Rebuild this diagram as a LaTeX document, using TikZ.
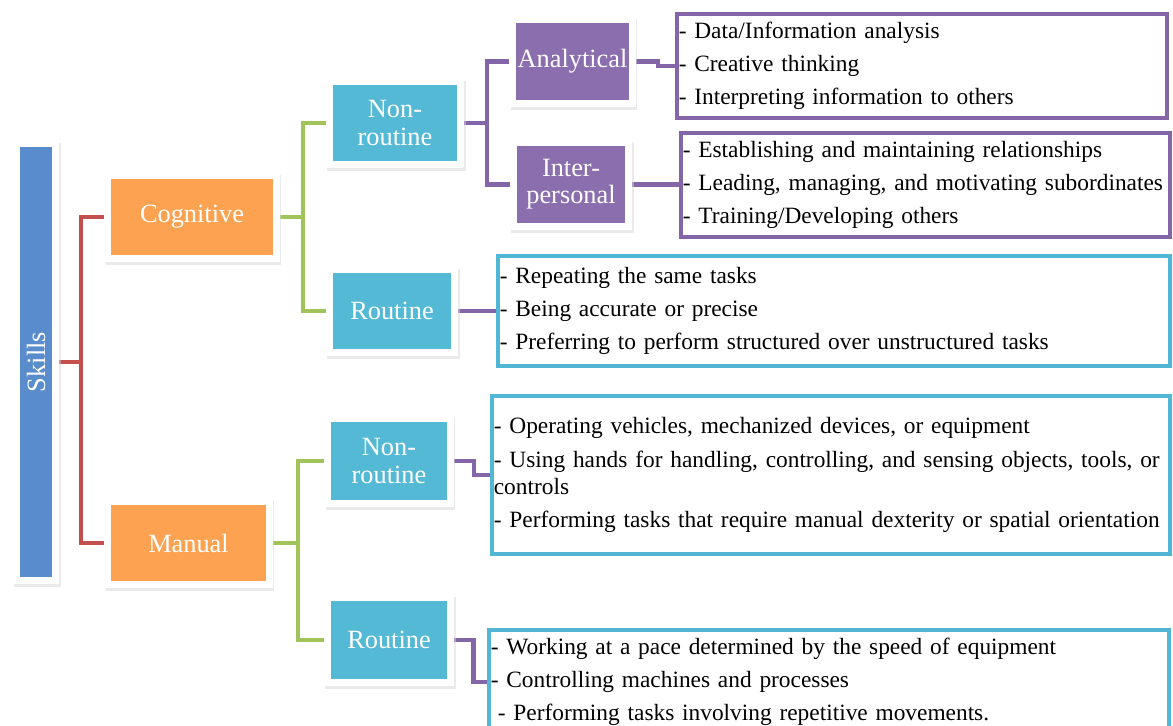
\documentclass[tikz,border=0pt]{standalone}
\usepackage{fontspec}
\setmainfont{Liberation Serif}
\usepackage{graphicx}
\usetikzlibrary{shadows,backgrounds}

\definecolor{skillblue}{RGB}{88,140,204}
\definecolor{cogorange}{RGB}{252,162,80}
\definecolor{routcyan}{RGB}{84,185,213}
\definecolor{anapurple}{RGB}{138,110,174}
\definecolor{linkred}{RGB}{196,80,77}
\definecolor{linkgreen}{RGB}{160,196,90}
\definecolor{linkpurple}{RGB}{132,102,168}
\definecolor{boxcyan}{RGB}{82,183,212}

\tikzset{
  card/.style={draw=white, line width=0.14cm, text=white, align=center,
    font=\fontsize{15}{15.5}\selectfont, inner sep=0pt,
    drop shadow={shadow xshift=0.3mm, shadow yshift=-0.6mm, fill=black!16, draw=black!16}},
  listbox/.style={line width=0.08cm, fill=white, align=left, inner xsep=1pt,
    inner ysep=0pt, font=\fontsize{13.3}{15.4}\selectfont},
  link/.style={line width=0.09cm},
}

\begin{document}
\begin{tikzpicture}[x=0.02cm,y=-0.02cm]
  \useasboundingbox (0,0) rectangle (1173,726);

  % skill tree
  \node[card, fill=skillblue, minimum width=0.80cm, minimum height=8.74cm] (skills) at (36,362) {\rotatebox{90}{Skills}};
  \node[card, fill=cogorange, minimum width=3.38cm, minimum height=1.68cm] (cog) at (192,217) {Cognitive};
  \node[card, fill=cogorange, minimum width=3.24cm, minimum height=1.68cm] (man) at (188.5,543) {Manual};
  \node[card, fill=routcyan, minimum width=2.64cm, minimum height=1.68cm] (cnr) at (395,123) {Non-\\routine};
  \node[card, fill=routcyan, minimum width=2.52cm, minimum height=1.68cm] (cr) at (392,311) {Routine};
  \node[card, fill=routcyan, minimum width=2.46cm, minimum height=1.70cm] (mnr) at (389,461) {Non-\\routine};
  \node[card, fill=routcyan, minimum width=2.48cm, minimum height=1.70cm] (mr) at (389,640) {Routine};
  \node[card, fill=anapurple, minimum width=2.40cm, minimum height=1.70cm] (ana) at (572.5,61.5) {Analytical};
  \node[card, fill=anapurple, minimum width=2.32cm, minimum height=1.68cm] (inter) at (571,184.5) {Inter-\\personal};

  % task lists
  \node[listbox, draw=linkpurple, minimum width=9.80cm, minimum height=2.08cm, text width=9.80cm-2pt] (anabox) at (922,66)
    {- Data/Information analysis\\[3.5pt]
     - Creative thinking\\[3.5pt]
     - Interpreting information to others};
  \node[listbox, draw=linkpurple, minimum width=9.78cm, minimum height=2.08cm, text width=9.78cm-2pt] (interbox) at (925.5,185)
    {- Establishing and maintaining relationships\\[3.5pt]
     - Leading, managing, and motivating subordinates\\[3.5pt]
     - Training/Developing others};
  \node[listbox, draw=boxcyan, minimum width=13.44cm, minimum height=2.20cm, text width=13.44cm-2pt] (crbox) at (834,311)
    {- Repeating the same tasks\\[3.5pt]
     - Being accurate or precise\\[3.5pt]
     - Preferring to perform structured over unstructured tasks};
  \node[listbox, draw=boxcyan, minimum width=13.56cm, minimum height=3.16cm, text width=13.56cm-2pt] (mnrbox) at (831,475)
    {- Operating vehicles, mechanized devices, or equipment\\[3.5pt]
     - Using hands for handling, controlling, and sensing objects, tools, or\\
     controls\\[3.5pt]
     - Performing tasks that require manual dexterity or spatial orientation};
  \node[listbox, draw=boxcyan, minimum width=13.60cm, minimum height=2.08cm, text width=13.60cm-2pt] (mrbox) at (829,682)
    {- Working at a pace determined by the speed of equipment\\[3.5pt]
     - Controlling machines and processes\\[3.5pt]
     \hspace*{4pt}- Performing tasks involving repetitive movements.};

  % connectors
  \coordinate (rj) at (81,362);
  \coordinate (gj1) at (303,217);
  \coordinate (gj2) at (298,543);
  \coordinate (pj) at (487,123);
  \begin{scope}[on background layer]
    \draw[link, linkred] (skills.east) -- (rj);
    \draw[link, linkred] (cog.west) -| (rj) |- (man.west);
    \draw[link, linkgreen] (cog.east) -- (gj1);
    \draw[link, linkgreen] (cnr.west) -| (gj1) |- (cr.west);
    \draw[link, linkgreen] (man.east) -- (gj2);
    \draw[link, linkgreen] (mnr.west) -| (gj2) |- (mr.west);
    \draw[link, linkpurple] (cnr.east) -- (pj);
    \draw[link, linkpurple] (ana.west) -| (pj) |- (inter.west);
    \draw[link, linkpurple] (ana.east) -- ++(22,0) |- (anabox.west);
    \draw[link, linkpurple] (inter.east) -- (inter.east -| interbox.west);
    \draw[link, linkpurple] (cr.east) -- ++(20,0) |- (crbox.west);
    \draw[link, linkpurple] (mnr.east) -- ++(20,0) |- (mnrbox.west);
    \draw[link, linkpurple] (mr.east) -- ++(19,0) |- (mrbox.west);
  \end{scope}
\end{tikzpicture}
\end{document}
